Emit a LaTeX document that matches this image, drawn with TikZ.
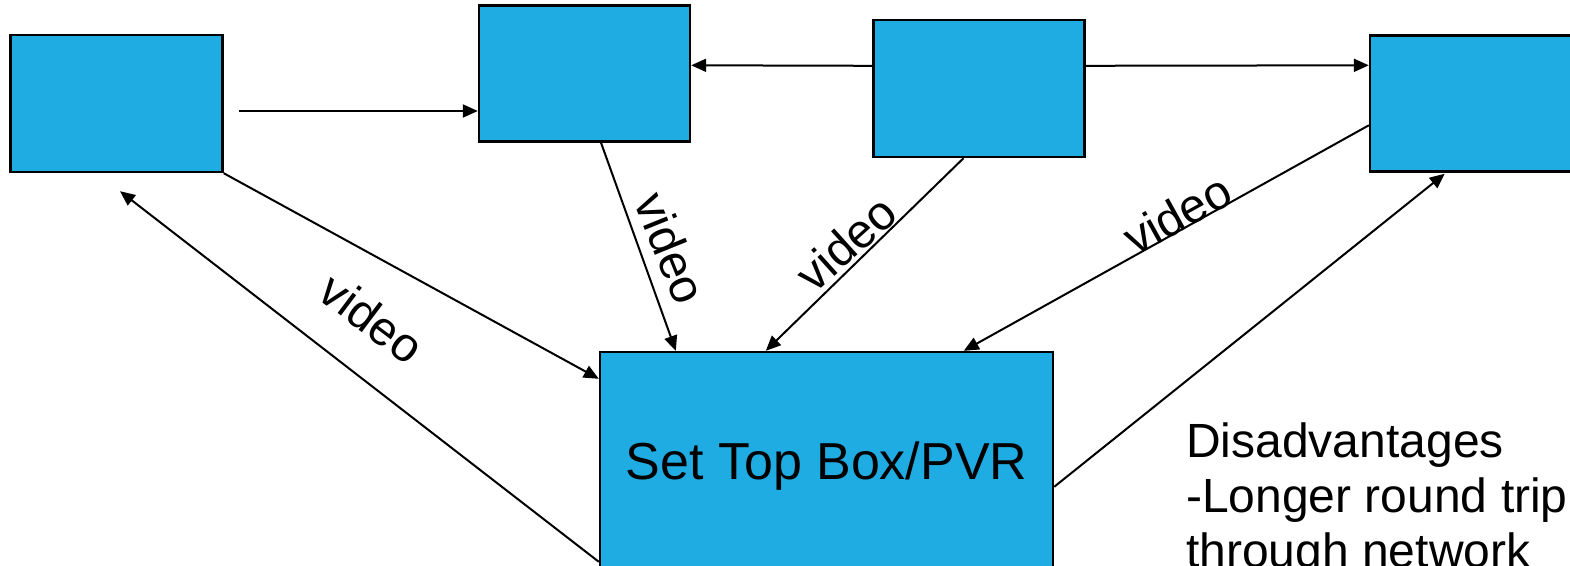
\documentclass[tikz,border=0pt]{standalone}
\usepackage{fontspec}
\setmainfont{Liberation Sans}
\usetikzlibrary{arrows.meta,calc}
\definecolor{boxblue}{HTML}{1FACE3}
\begin{document}
\begin{tikzpicture}[x=1pt,y=-1pt,
  box/.style={draw=black, line width=2.4pt, fill=boxblue, inner sep=0pt},
  arr/.style={-{Triangle[length=15pt,width=13pt]}, line width=2pt},
  lbl/.style={font=\fontsize{48}{56}\selectfont, inner sep=0pt}]
\useasboundingbox (0,0) rectangle (1570,565);
% boxes
\node[box, minimum width=212pt, minimum height=137pt] (A) at (116.5,103.5) {};
\node[box, minimum width=211pt, minimum height=136pt] (B) at (584.5,73.5) {};
\node[box, minimum width=211pt, minimum height=137pt] (C) at (979,88.5) {};
\node[box, minimum width=212pt, minimum height=136pt] (D) at (1476,103.5) {};
\node[box, minimum width=453pt, minimum height=229pt,
      font=\fontsize{52}{60}\selectfont] (STB) at (826.5,466.5) {Set Top Box/PVR};
% connectors
\coordinate (a0) at (239,111);
\draw[arr] (a0) -- (a0 -| B.west);
\draw[arr] ($(C.north west)+(0,47)$) -- ($(B.north east)+(0,61)$);
\draw[arr] ($(C.north east)+(0,47)$) -- ($(D.north west)+(0,31)$);
\draw[arr] (A.south east) -- ($(STB.north west)+(0,28)$);
\draw[arr] ($(B.south)+(16.5,0)$) -- ($(STB.north west)+(77,0)$);
\draw[arr] ($(C.south)+(-15.5,0)$) -- ($(STB.north west)+(167,0)$);
\draw[arr] ($(D.north west)+(0,91)$) -- ($(STB.north west)+(365,0)$);
\draw[arr] ($(STB.north east)+(0,136)$) -- ($(D.south west)+(76,1)$);
\draw[arr] ($(STB.north west)+(0,211)$) -- ($(A.south)+(3.5,18)$);
% labels
\node[lbl, rotate=-37] (l1) at (372,318) {video};
\node[lbl, rotate=-68] (l2) at (671,248) {video};
\node[lbl, rotate=42] (l3) at (846,243) {video};
\node[lbl, rotate=29] (l4) at (1177,214) {video};
% text
\node[anchor=north west, align=left, inner sep=0pt,
      font=\fontsize{48}{55}\selectfont] (dis) at (1186,423)
  {Disadvantages\\-Longer round trip\\through network};
\end{tikzpicture}
\end{document}
